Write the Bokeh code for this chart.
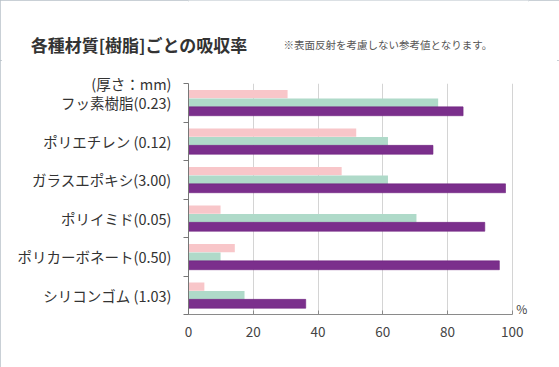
from bokeh.plotting import figure
from bokeh.layouts import column
from bokeh.models import Range1d, FixedTicker, Label
from bokeh.embed import file_html
from bokeh.resources import INLINE

title_text = "各種材質[樹脂]ごとの吸収率"
note_text = "※表面反射を考慮しない参考値となります。"
unit_text = "(厚さ：mm)"
categories = ["フッ素樹脂(0.23)", "ポリエチレン (0.12)", "ガラスエポキシ(3.00)",
              "ポリイミド(0.05)", "ポリカーボネート(0.50)", "シリコンゴム (1.03)"]
series_pink = [30.6, 51.8, 47.3, 9.9, 14.3, 4.9]
series_green = [77.1, 61.6, 61.6, 70.4, 9.9, 17.3]
series_purple = [84.8, 75.5, 97.9, 91.5, 96.0, 36.2]
x_ticks = [0, 20, 40, 60, 80, 100]

FONT = "Noto Sans CJK JP"
n = len(categories)
centers = [n - 0.5 - i for i in range(n)]

W = 559
HEAD_H = 60
LEFT = 188
RIGHT = 31

# ---- heading strip ----
head = figure(width=W, height=HEAD_H, output_backend="svg", toolbar_location=None,
              x_range=Range1d(0, 1), y_range=Range1d(0, HEAD_H),
              x_axis_location=None, min_border=0,
              min_border_left=LEFT, min_border_right=RIGHT)
head.outline_line_color = None
head.grid.visible = False
head.border_fill_color = "white"
hy = head.yaxis[0]
title_pos = 16
hy.ticker = FixedTicker(ticks=[title_pos], minor_ticks=[])
hy.major_label_overrides = {title_pos: title_text}
hy.axis_line_color = None
hy.major_tick_line_color = None
hy.minor_tick_line_color = None
hy.major_tick_out = 0
hy.major_tick_in = 0
hy.major_label_standoff = -59
hy.major_label_text_font = FONT
hy.major_label_text_font_size = "17px"
hy.major_label_text_font_style = "bold"
hy.major_label_text_color = "#333333"
head.add_layout(Label(x=283 - LEFT, y=title_pos, x_units="screen", y_units="screen", text=note_text,
                      text_font=FONT, text_font_size="10.5px",
                      text_color="#555555", text_baseline="middle", text_align="left"))

# ---- chart ----
p = figure(width=W, height=367 - HEAD_H, output_backend="svg", toolbar_location=None,
           x_range=Range1d(0, 105), y_range=Range1d(0, n),
           min_border_left=LEFT, min_border_right=RIGHT, min_border_top=83 - HEAD_H,
           min_border_bottom=53)
p.outline_line_color = None
p.background_fill_color = "white"
p.border_fill_color = "white"

off = 0.222
h = 0.215
p.hbar(y=[c + off for c in centers], left=0, right=series_pink, height=h,
       fill_color="#f8c6c9", line_color=None)
p.hbar(y=centers, left=0, right=series_green, height=h,
       fill_color="#afdac9", line_color=None)
p.hbar(y=[c - off for c in centers], left=0, right=series_purple, height=0.23,
       fill_color="#7b2f8c", line_color="#6e2480", line_width=0.6)

xa = p.xaxis[0]
xa.ticker = FixedTicker(ticks=x_ticks)
xa.bounds = (x_ticks[0], x_ticks[-1])
xa.axis_line_color = "#8a8a8a"
xa.major_tick_line_color = "#8a8a8a"
xa.major_tick_in = 4
xa.major_tick_out = 0
xa.minor_tick_line_color = None
xa.major_label_standoff = 12
xa.major_label_text_font = FONT
xa.major_label_text_font_size = "13.5px"
xa.major_label_text_color = "#444444"

ya = p.yaxis[0]
ya.ticker = FixedTicker(ticks=centers + [n], minor_ticks=list(range(n + 1)))
overrides = {c: lab for c, lab in zip(centers, categories)}
overrides[n] = unit_text
ya.major_label_overrides = overrides
ya.axis_line_color = "#777777"
ya.major_tick_line_color = None
ya.major_tick_in = 0
ya.major_tick_out = 0
ya.minor_tick_line_color = "#777777"
ya.minor_tick_in = 0
ya.minor_tick_out = 5
ya.major_label_standoff = 12
ya.major_label_text_font = FONT
ya.major_label_text_font_size = "14.5px"
ya.major_label_text_color = "#333333"

p.xgrid.ticker = FixedTicker(ticks=x_ticks[1:])
p.xgrid.grid_line_color = "#d4d4d4"
p.ygrid.grid_line_color = None

p.add_layout(Label(x=x_ticks[-1], y=0, x_offset=4, y_offset=6, text="%",
                   text_font=FONT, text_font_size="12px",
                   text_color="#444444", text_baseline="middle", text_align="left"))

layout = column(head, p, spacing=0,
                styles={"outline": "2px solid #b7c1c8", "outline-offset": "-2px"})

open("out.html", "w").write(file_html(layout, INLINE))
